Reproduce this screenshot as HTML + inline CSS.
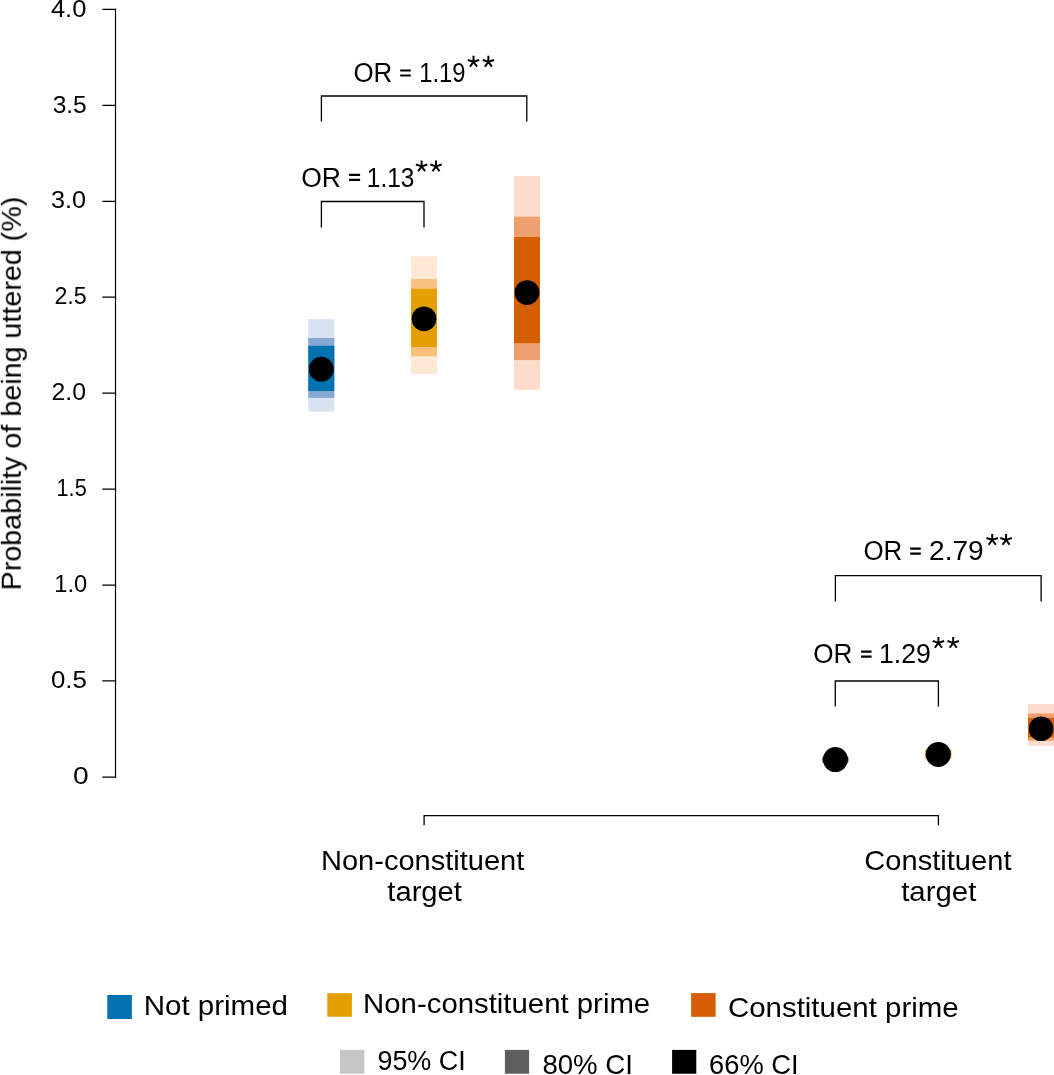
<!DOCTYPE html>
<html>
<head>
<meta charset="utf-8">
<style>
html,body{margin:0;padding:0;background:#fff;}
body{width:1054px;height:1075px;overflow:hidden;}
svg{display:block;}
text{font-family:"Liberation Sans",sans-serif;fill:#000;}
</style>
</head>
<body>
<svg width="1054" height="1075" viewBox="0 0 1054 1075">
<rect width="1054" height="1075" fill="#fff"/>

<!-- y axis -->
<g stroke="#000" stroke-width="1.2" fill="none">
<path d="M115.5 8.8V777.8"/>
<path d="M102.3 9.4H116.1M102.3 105.4H116.1M102.3 201.3H116.1M102.3 297.2H116.1M102.3 393.1H116.1M102.3 489.2H116.1M102.3 585.2H116.1M102.3 680.9H116.1M102.3 777.2H116.1"/>
</g>

<!-- bars group 1 -->
<rect x="308.3" y="319.2" width="26" height="92.4" fill="#d9e2f0"/>
<rect x="308.3" y="338" width="26" height="59.9" fill="#86a7d2"/>
<rect x="308.3" y="345.8" width="26" height="45.2" fill="#0072b2"/>
<!-- group 2 -->
<rect x="411" y="256.3" width="26" height="117.7" fill="#fde9d4"/>
<rect x="411" y="279.1" width="26" height="77.1" fill="#f7c17b"/>
<rect x="411" y="288.8" width="26" height="58.2" fill="#e69f00"/>
<!-- group 3 -->
<rect x="514" y="176" width="26" height="213.8" fill="#fddccc"/>
<rect x="514" y="216.7" width="26" height="143.4" fill="#ef9e6e"/>
<rect x="514" y="237" width="26" height="106.2" fill="#d55e00"/>
<!-- group 4/5 tiny -->
<rect x="822.4" y="756.5" width="26" height="6" fill="#86a7d2"/>
<rect x="822.4" y="757.5" width="26" height="4" fill="#0072b2"/>
<rect x="925.3" y="749" width="26" height="10" fill="#f7c17b"/>
<rect x="925.3" y="751" width="26" height="6" fill="#e69f00"/>
<!-- group 6 -->
<rect x="1028" y="703.9" width="26" height="41.9" fill="#fddccc"/>
<rect x="1028" y="713.4" width="26" height="27.3" fill="#ef9e6e"/>
<rect x="1028" y="717.9" width="26" height="19.5" fill="#d55e00"/>

<!-- points -->
<g fill="#000">
<circle cx="321.3" cy="369.2" r="12.4"/>
<circle cx="424" cy="318.8" r="12.4"/>
<circle cx="527" cy="292.6" r="12.4"/>
<circle cx="835.4" cy="759.6" r="12.5"/>
<circle cx="938.3" cy="754.4" r="12.5"/>
<circle cx="1041.1" cy="728.8" r="12.3"/>
</g>

<!-- brackets -->
<g stroke="#000" stroke-width="1.3" fill="none" stroke-linejoin="miter">
<path d="M321.4 121.6V96H526.8V121.6"/>
<path d="M321.4 227.4V201.5H424V227.4"/>
<path d="M835.4 601.5V575.6H1041.1V601.5"/>
<path d="M835.3 706.5V681H938.4V706.5"/>
<path d="M424.1 825.2V815.6H938.4V825.2"/>
</g>

<!-- legend swatches -->
<rect x="107.3" y="995" width="24.6" height="24" fill="#0072b2"/>
<rect x="327.3" y="993.2" width="24.6" height="23.5" fill="#e69f00"/>
<rect x="691.1" y="993.1" width="24.5" height="23.7" fill="#d55e00"/>
<rect x="340" y="1049.9" width="24.4" height="23.8" fill="#c6c6c6"/>
<rect x="504.9" y="1049.9" width="24.2" height="23.8" fill="#5e5e5e"/>
<rect x="672.1" y="1049.9" width="24.2" height="23.8" fill="#000"/>

<path d="M473.51 61.80L473.51 55.80M473.51 61.80L479.21 59.95M473.51 61.80L477.03 66.65M473.51 61.80L469.98 66.65M473.51 61.80L467.80 59.95M488.39 61.80L488.39 55.80M488.39 61.80L494.10 59.95M488.39 61.80L491.92 66.65M488.39 61.80L484.87 66.65M488.39 61.80L482.69 59.95M421.61 166.40L421.61 160.40M421.61 166.40L427.31 164.55M421.61 166.40L425.13 171.25M421.61 166.40L418.08 171.25M421.61 166.40L415.90 164.55M435.99 166.40L435.99 160.40M435.99 166.40L441.70 164.55M435.99 166.40L439.52 171.25M435.99 166.40L432.47 171.25M435.99 166.40L430.29 164.55M992.21 539.90L992.21 533.90M992.21 539.90L997.91 538.05M992.21 539.90L995.73 544.75M992.21 539.90L988.68 544.75M992.21 539.90L986.50 538.05M1006.09 539.90L1006.09 533.90M1006.09 539.90L1011.80 538.05M1006.09 539.90L1009.62 544.75M1006.09 539.90L1002.57 544.75M1006.09 539.90L1000.39 538.05M938.41 642.90L938.41 636.90M938.41 642.90L944.11 641.05M938.41 642.90L941.93 647.75M938.41 642.90L934.88 647.75M938.41 642.90L932.70 641.05M953.19 642.90L953.19 636.90M953.19 642.90L958.90 641.05M953.19 642.90L956.72 647.75M953.19 642.90L949.67 647.75M953.19 642.90L947.49 641.05" stroke="#000" stroke-width="2" fill="none"/><path d="M400.20 70.45H410.80M400.20 75.45H410.80M349.10 174.85H360.10M349.10 179.85H360.10M910.20 548.65H920.80M910.20 553.65H920.80M861.10 651.65H871.60M861.10 656.65H871.60" stroke="#000" stroke-width="2.1" fill="none"/>
<g style="filter:grayscale(1)">
<text font-size="23.0" transform="translate(50.89 16.80) scale(1.1100 1)">4.0</text>
<text font-size="23.5" transform="translate(52.65 113.10) scale(1.0452 1)">3.5</text>
<text font-size="23.5" transform="translate(50.93 208.00) scale(1.0742 1)">3.0</text>
<text font-size="23.5" transform="translate(54.41 304.00) scale(0.9903 1)">2.5</text>
<text font-size="23.5" transform="translate(51.55 400.10) scale(1.0548 1)">2.0</text>
<text font-size="23.5" transform="translate(56.55 496.00) scale(0.9233 1)">1.5</text>
<text font-size="23.5" transform="translate(54.18 592.30) scale(1.0100 1)">1.0</text>
<text font-size="23.5" transform="translate(50.90 688.20) scale(1.1000 1)">0.5</text>
<text font-size="23.5" transform="translate(73.00 783.70) scale(1.2000 1)">0</text>
<text font-size="28" transform="translate(353.47 82.20) scale(0.9256 1)">OR</text>
<text font-size="28" transform="translate(419.20 82.20) scale(0.8490 1)">1.19</text>
<text font-size="28" transform="translate(301.15 186.60) scale(0.9462 1)">OR</text>
<text font-size="28" transform="translate(366.85 186.60) scale(0.8725 1)">1.13</text>
<text font-size="28" transform="translate(863.47 560.40) scale(0.9256 1)">OR</text>
<text font-size="28" transform="translate(929.10 560.40) scale(1.0019 1)">2.79</text>
<text font-size="28" transform="translate(813.17 663.40) scale(0.9333 1)">OR</text>
<text font-size="28" transform="translate(878.99 663.40) scale(0.9529 1)">1.29</text>
<text font-size="27.5" transform="translate(320.99 869.80) scale(1.0565 1)">Non-constituent</text>
<text font-size="27.5" transform="translate(387.30 901.20) scale(1.0614 1)">target</text>
<text font-size="27.5" transform="translate(864.34 869.80) scale(1.0580 1)">Constituent</text>
<text font-size="27.5" transform="translate(901.20 901.20) scale(1.0686 1)">target</text>
<text font-size="28" transform="translate(143.69 1014.90) scale(1.0541 1)">Not primed</text>
<text font-size="28" transform="translate(363.10 1013.00) scale(1.0487 1)">Non-constituent prime</text>
<text font-size="28" transform="translate(727.95 1016.50) scale(1.0516 1)">Constituent prime</text>
<text font-size="28" transform="translate(377.44 1069.90) scale(0.9614 1)">95% CI</text>
<text font-size="28" transform="translate(542.41 1073.70) scale(0.9864 1)">80% CI</text>
<text font-size="28" transform="translate(709.12 1073.70) scale(0.9750 1)">66% CI</text>
<text font-size="27.2" transform="translate(20.80 590.41) rotate(-90) scale(1.0551 1)">Probability of being uttered (%)</text>
</g>
</svg>
</body>
</html>
